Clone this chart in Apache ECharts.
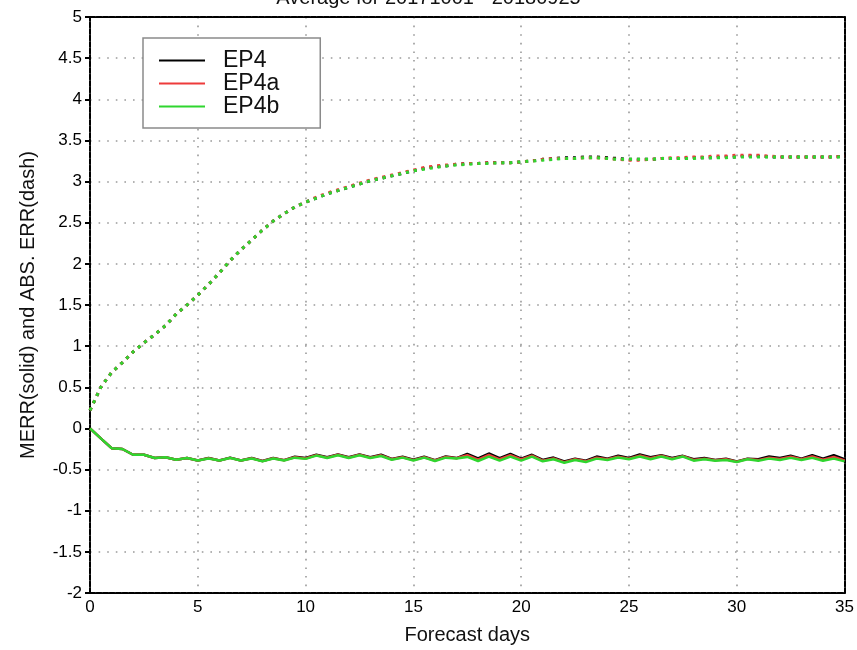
<!DOCTYPE html>
<html>
<head>
<meta charset="utf-8">
<script src="https://cdn.jsdelivr.net/npm/echarts@6/dist/echarts.min.js"></script>
<style>
  html, body { margin: 0; padding: 0; background: #fff; }
  #chart { width: 857px; height: 650px; }
</style>
</head>
<body>
<div id="chart"></div>
<script>
// Forecast lead time (days), every half day
const days = [
  0, 0.5, 1, 1.5, 2, 2.5, 3, 3.5, 4, 4.5, 5, 5.5, 6, 6.5, 7, 7.5, 8, 8.5, 9, 9.5,
  10, 10.5, 11, 11.5, 12, 12.5, 13, 13.5, 14, 14.5, 15, 15.5, 16, 16.5, 17, 17.5,
  18, 18.5, 19, 19.5, 20, 20.5, 21, 21.5, 22, 22.5, 23, 23.5, 24, 24.5, 25, 25.5,
  26, 26.5, 27, 27.5, 28, 28.5, 29, 29.5, 30, 30.5, 31, 31.5, 32, 32.5, 33, 33.5,
  34, 34.5, 35
];

const experiments = ['EP4', 'EP4a', 'EP4b'];
const colors = ['#000000', '#ee3b3b', '#2fd62f'];

// Mean error (solid lines)
const merrEP4 = [
  0, -0.12, -0.24, -0.25, -0.32, -0.32, -0.36, -0.35, -0.38, -0.36, -0.39, -0.36,
  -0.39, -0.355, -0.39, -0.36, -0.395, -0.36, -0.385, -0.345, -0.36, -0.32, -0.35,
  -0.315, -0.35, -0.315, -0.35, -0.32, -0.37, -0.345, -0.38, -0.345, -0.385, -0.34,
  -0.36, -0.31, -0.365, -0.305, -0.36, -0.31, -0.367, -0.32, -0.383, -0.354, -0.40,
  -0.367, -0.392, -0.342, -0.367, -0.333, -0.358, -0.317, -0.35, -0.325, -0.358,
  -0.333, -0.375, -0.358, -0.383, -0.367, -0.40, -0.367, -0.375, -0.342, -0.358,
  -0.333, -0.367, -0.325, -0.367, -0.325, -0.375
];
const merrEP4a = [
  0, -0.12, -0.24, -0.25, -0.32, -0.32, -0.36, -0.35, -0.38, -0.36, -0.39, -0.362,
  -0.39, -0.358, -0.39, -0.362, -0.397, -0.362, -0.387, -0.35, -0.365, -0.325, -0.355,
  -0.32, -0.355, -0.32, -0.355, -0.327, -0.375, -0.35, -0.385, -0.35, -0.39, -0.347,
  -0.362, -0.325, -0.38, -0.322, -0.375, -0.325, -0.378, -0.33, -0.392, -0.365, -0.41,
  -0.375, -0.4, -0.355, -0.375, -0.343, -0.367, -0.33, -0.362, -0.333, -0.367,
  -0.337, -0.383, -0.367, -0.388, -0.375, -0.404, -0.37, -0.385, -0.355, -0.37,
  -0.345, -0.375, -0.342, -0.38, -0.346, -0.39
];
const merrEP4b = [
  0, -0.12, -0.24, -0.25, -0.32, -0.32, -0.36, -0.35, -0.38, -0.36, -0.39, -0.365,
  -0.39, -0.36, -0.39, -0.365, -0.40, -0.365, -0.39, -0.355, -0.37, -0.33, -0.36,
  -0.325, -0.36, -0.325, -0.36, -0.335, -0.38, -0.355, -0.39, -0.355, -0.395, -0.355,
  -0.365, -0.346, -0.396, -0.342, -0.392, -0.342, -0.392, -0.342, -0.40, -0.375, -0.417,
  -0.383, -0.408, -0.367, -0.383, -0.354, -0.375, -0.342, -0.375, -0.342, -0.375,
  -0.342, -0.392, -0.375, -0.392, -0.383, -0.408, -0.375, -0.392, -0.367, -0.383,
  -0.358, -0.383, -0.358, -0.392, -0.367, -0.40
];

// Absolute error (dotted lines)
const absEP4 = [
  0.22, 0.50, 0.68, 0.80, 0.93, 1.04, 1.14, 1.25, 1.39, 1.50, 1.62, 1.75, 1.89, 2.04,
  2.17, 2.29, 2.41, 2.52, 2.61, 2.69, 2.75, 2.80, 2.85, 2.89, 2.93, 2.97, 3.01, 3.04,
  3.07, 3.10, 3.13, 3.16, 3.18, 3.19, 3.21, 3.22, 3.22, 3.23, 3.23, 3.23, 3.24, 3.25,
  3.27, 3.28, 3.29, 3.29, 3.30, 3.30, 3.29, 3.28, 3.27, 3.27, 3.27, 3.28, 3.28, 3.28,
  3.29, 3.29, 3.29, 3.30, 3.30, 3.31, 3.31, 3.30, 3.30, 3.30, 3.30, 3.30, 3.30, 3.30,
  3.31
];
const absEP4a = [
  0.22, 0.50, 0.68, 0.80, 0.93, 1.04, 1.14, 1.25, 1.39, 1.50, 1.62, 1.75, 1.89, 2.04,
  2.17, 2.29, 2.41, 2.52, 2.61, 2.69, 2.75, 2.81, 2.86, 2.90, 2.94, 2.98, 3.02, 3.05,
  3.08, 3.11, 3.14, 3.17, 3.19, 3.20, 3.21, 3.22, 3.22, 3.23, 3.23, 3.23, 3.24, 3.25,
  3.27, 3.28, 3.28, 3.28, 3.29, 3.29, 3.28, 3.27, 3.26, 3.26, 3.27, 3.28, 3.29, 3.29,
  3.30, 3.30, 3.31, 3.31, 3.32, 3.32, 3.32, 3.31, 3.30, 3.30, 3.30, 3.30, 3.30, 3.30,
  3.31
];
const absEP4b = [
  0.22, 0.50, 0.68, 0.80, 0.93, 1.04, 1.14, 1.25, 1.39, 1.50, 1.62, 1.75, 1.89, 2.04,
  2.17, 2.29, 2.41, 2.52, 2.61, 2.69, 2.75, 2.80, 2.85, 2.89, 2.93, 2.97, 3.01, 3.04,
  3.07, 3.10, 3.13, 3.15, 3.17, 3.19, 3.20, 3.21, 3.22, 3.22, 3.23, 3.23, 3.24, 3.25,
  3.26, 3.27, 3.28, 3.28, 3.29, 3.29, 3.28, 3.27, 3.27, 3.27, 3.27, 3.28, 3.28, 3.28,
  3.28, 3.29, 3.29, 3.29, 3.30, 3.30, 3.30, 3.30, 3.30, 3.30, 3.30, 3.30, 3.30, 3.30,
  3.30
];

const merrSeries = [merrEP4, merrEP4a, merrEP4b];
const absSeries = [absEP4, absEP4a, absEP4b];

const labelFont = 'Liberation Sans';

function pairs(values) {
  return days.map((d, i) => [d, values[i]]);
}

const series = [];
experiments.forEach((name, k) => {
  series.push({
    name: name,
    type: 'line',
    data: pairs(absSeries[k]),
    symbol: 'none',
    z: 2 + k,
    lineStyle: { color: colors[k], width: 3, type: [3, 5], cap: 'butt' },
    itemStyle: { color: colors[k] }
  });
});
experiments.forEach((name, k) => {
  series.push({
    name: name,
    type: 'line',
    data: pairs(merrSeries[k]),
    symbol: 'none',
    z: 5 + k,
    lineStyle: { color: colors[k], width: 2.5, type: 'solid' },
    itemStyle: { color: colors[k] }
  });
});

const frameLine = { show: true, onZero: false, lineStyle: { color: '#000', width: 2, type: [5, 1.5] } };
const gridDots = { show: true, lineStyle: { color: '#9a9a9a', width: 1.6, type: [1.6, 7] } };

const chart = echarts.init(document.getElementById('chart'), null, { renderer: 'canvas' });
chart.setOption({
  backgroundColor: '#ffffff',
  animation: false,
  title: {
    text: 'Average for 20171001 - 20180925',
    left: 'center',
    top: -17,
    textStyle: { fontFamily: labelFont, fontSize: 20, fontWeight: 'normal', color: '#111' }
  },
  grid: { left: 90, right: 11, top: 17, bottom: 55, containLabel: false },
  legend: {
    data: experiments,
    orient: 'vertical',
    left: 143,
    top: 38,
    padding: [11, 41, 10, 16],
    backgroundColor: '#fff',
    borderColor: '#8a8a8a',
    borderWidth: 1.5,
    borderRadius: 0,
    itemWidth: 46,
    itemHeight: 2,
    itemGap: 0,
    icon: 'rect',
    textStyle: { fontFamily: labelFont, fontSize: 23, lineHeight: 21.5, color: '#111', padding: [0, 0, 0, 13] }
  },
  xAxis: [
    {
      type: 'value', min: 0, max: 35, interval: 5, position: 'bottom',
      name: 'Forecast days', nameLocation: 'middle', nameGap: 32,
      nameTextStyle: { fontFamily: labelFont, fontSize: 20, color: '#111' },
      axisLine: frameLine,
      axisTick: { show: false },
      axisLabel: { fontFamily: labelFont, fontSize: 17, color: '#000', margin: 6 },
      splitLine: gridDots
    },
    {
      type: 'value', min: 0, max: 35, interval: 5, position: 'top',
      axisLine: frameLine, axisTick: { show: false }, axisLabel: { show: false }, splitLine: { show: false }
    }
  ],
  yAxis: [
    {
      type: 'value', min: -2, max: 5, interval: 0.5, position: 'left',
      name: 'MERR(solid) and ABS. ERR(dash)', nameLocation: 'middle', nameGap: 52, nameRotate: 90,
      nameTextStyle: { fontFamily: labelFont, fontSize: 20, color: '#111' },
      axisLine: frameLine,
      axisTick: { show: true, inside: false, length: 5, lineStyle: { color: '#000', width: 2 } },
      axisLabel: { fontFamily: labelFont, fontSize: 17, color: '#000', margin: 8 },
      splitLine: gridDots
    },
    {
      type: 'value', min: -2, max: 5, interval: 0.5, position: 'right',
      axisLine: frameLine, axisTick: { show: false }, axisLabel: { show: false }, splitLine: { show: false }
    }
  ],
  series: series
});
</script>
</body>
</html>
